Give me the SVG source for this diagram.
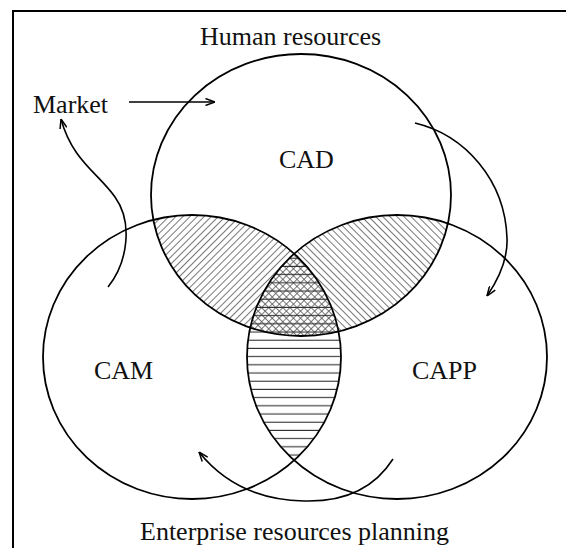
<svg xmlns="http://www.w3.org/2000/svg" width="566" height="548" viewBox="0 0 566 548">
<style>
.lbl{font-family:"Liberation Serif","Times New Roman",serif;font-size:26px;fill:#111}
.ring{fill:none;stroke:#000;stroke-width:1.8}
.con{fill:none;stroke:#000;stroke-width:1.6}
</style>
<defs>
<pattern id="hFwd" patternUnits="userSpaceOnUse" width="5" height="5" patternTransform="rotate(45)">
<line x1="2.5" y1="0" x2="2.5" y2="5" stroke="#555" stroke-width="0.8"/>
</pattern>
<pattern id="hBack" patternUnits="userSpaceOnUse" width="5" height="5" patternTransform="rotate(-45)">
<line x1="2.5" y1="0" x2="2.5" y2="5" stroke="#555" stroke-width="0.8"/>
</pattern>
<pattern id="hHor" patternUnits="userSpaceOnUse" width="8" height="8.2">
<line x1="0" y1="4" x2="8" y2="4" stroke="#333" stroke-width="1.1"/>
</pattern>
<clipPath id="clipCAD"><ellipse cx="301" cy="195" rx="150" ry="141"/></clipPath>
<clipPath id="clipCAM"><ellipse cx="192" cy="357" rx="149" ry="142"/></clipPath>
<marker id="arr" viewBox="0 0 10 8" refX="10" refY="4" markerWidth="10" markerHeight="8" markerUnits="userSpaceOnUse" orient="auto">
<path d="M0.5,0.5 L10,4 L0.5,7.5" fill="none" stroke="#000" stroke-width="1.5"/>
</marker>
</defs>
<rect x="13" y="11" width="600" height="600" fill="none" stroke="#000" stroke-width="2"/>
<g id="hatching">
<g clip-path="url(#clipCAD)">
<ellipse cx="192" cy="357" rx="149" ry="142" fill="url(#hFwd)"/>
<ellipse cx="397" cy="357" rx="150" ry="142" fill="url(#hBack)"/>
</g>
<g clip-path="url(#clipCAM)">
<ellipse cx="397" cy="357" rx="150" ry="142" fill="url(#hHor)"/>
</g>
</g>
<g id="CAD">
<ellipse class="ring" cx="301" cy="195" rx="150" ry="141"/>
<text class="lbl" x="279" y="168">CAD</text>
</g>
<g id="CAM">
<ellipse class="ring" cx="192" cy="357" rx="149" ry="142"/>
<text class="lbl" x="94" y="379">CAM</text>
</g>
<g id="CAPP">
<ellipse class="ring" cx="397" cy="357" rx="150" ry="142"/>
<text class="lbl" x="412" y="379">CAPP</text>
</g>
<g id="HumanResources">
<text class="lbl" x="200" y="45">Human resources</text>
</g>
<g id="Market">
<text class="lbl" x="33" y="113">Market</text>
</g>
<g id="ERP">
<text class="lbl" x="140" y="540">Enterprise resources planning</text>
</g>
<g id="connectors">
<path class="con" d="M129,102 L215,102" marker-end="url(#arr)"/>
<path class="con" d="M108,287 C128,262 133,222 115,197 C98,173 72,160 61,119" marker-end="url(#arr)"/>
<path class="con" d="M415,123 C465,135 505,180 507,238 C508,260 498,280 487,296" marker-end="url(#arr)"/>
<path class="con" d="M393,459 C372,492 338,502 304,501 C258,500 223,482 199,452" marker-end="url(#arr)"/>
</g>
</svg>
